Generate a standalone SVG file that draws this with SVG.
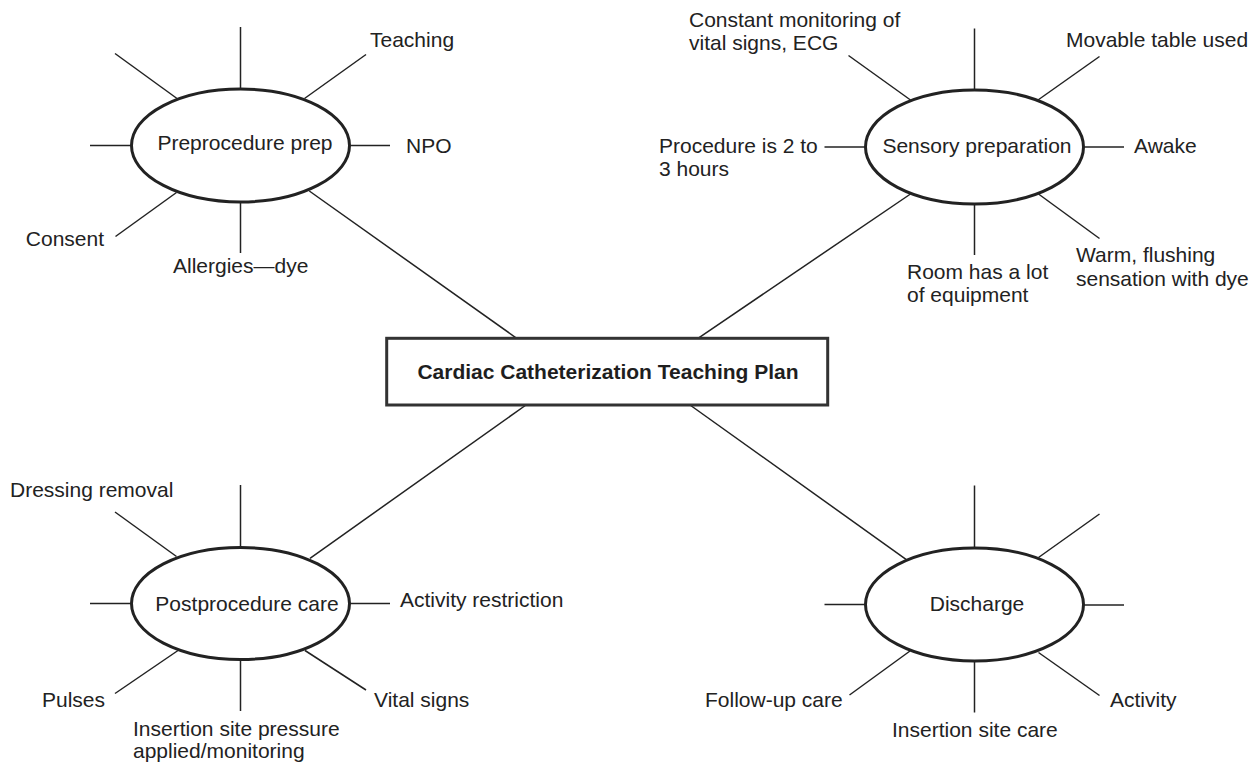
<svg xmlns="http://www.w3.org/2000/svg" width="1257" height="763" viewBox="0 0 1257 763">
<style>
  .bg{fill:#ffffff}
  .spoke{stroke:#222;stroke-width:1.5;fill:none;stroke-linecap:butt}
  .conn{stroke:#222;stroke-width:1.5;fill:none}
  .ell{fill:#ffffff;stroke:#222;stroke-width:3}
  .box{fill:#ffffff;stroke:#333;stroke-width:3}
  text{font-family:"Liberation Sans",Arial,Helvetica,sans-serif;font-size:21px;fill:#222}
  .title{font-weight:bold;font-size:21px;fill:#1e1e1e}
  .mid{text-anchor:middle}
</style>
<rect class="bg" x="0" y="0" width="1257" height="763"/>

<g id="connectors">
  <line class="conn" x1="309.3" y1="191" x2="516.7" y2="338.3"/>
  <line class="conn" x1="910.5" y1="194" x2="698" y2="338.3"/>
  <line class="conn" x1="310" y1="558.3" x2="526" y2="405"/>
  <line class="conn" x1="690" y1="405" x2="906" y2="559.3"/>
</g>

<g id="center">
  <rect class="box" x="386.7" y="338.3" width="441" height="66.7"/>
  <text class="title mid" x="608" y="379">Cardiac Catheterization Teaching Plan</text>
</g>

<g id="preprocedure">
  <g>
    <line class="spoke" x1="240.5" y1="27" x2="240.5" y2="89"/>
    <line class="spoke" x1="115" y1="53.5" x2="177" y2="98.5"/>
    <line class="spoke" x1="366" y1="54.5" x2="304.5" y2="98.5"/>
    <line class="spoke" x1="90" y1="145.5" x2="131.5" y2="145.5"/>
    <line class="spoke" x1="349.5" y1="145.5" x2="390" y2="145.5"/>
    <line class="spoke" x1="176.5" y1="192.5" x2="115.5" y2="236.5"/>
    <line class="spoke" x1="240.5" y1="202" x2="240.5" y2="253"/>
  </g>
  <ellipse class="ell" cx="240.5" cy="145.5" rx="109" ry="56.5"/>
  <text class="mid" x="245" y="150">Preprocedure prep</text>
  <text x="370" y="47">Teaching</text>
  <text x="406" y="153">NPO</text>
  <text x="173" y="273">Allergies—dye</text>
  <text x="104" y="246" text-anchor="end">Consent</text>
</g>

<g id="sensory">
  <g>
    <line class="spoke" x1="974.5" y1="28.5" x2="974.5" y2="90.5"/>
    <line class="spoke" x1="848.5" y1="55.5" x2="910.5" y2="100"/>
    <line class="spoke" x1="1099.5" y1="56.5" x2="1038" y2="100"/>
    <line class="spoke" x1="824.5" y1="147" x2="865.5" y2="147"/>
    <line class="spoke" x1="1083.5" y1="147" x2="1124" y2="147"/>
    <line class="spoke" x1="974.5" y1="203.5" x2="974.5" y2="255"/>
    <line class="spoke" x1="1038.5" y1="194" x2="1099.5" y2="238.5"/>
  </g>
  <ellipse class="ell" cx="974.5" cy="147" rx="109" ry="57"/>
  <text class="mid" x="977" y="153">Sensory preparation</text>
  <text x="689" y="27">Constant monitoring of</text>
  <text x="689" y="50">vital signs, ECG</text>
  <text x="1066" y="47">Movable table used</text>
  <text x="659" y="153">Procedure is 2 to</text>
  <text x="659" y="176">3 hours</text>
  <text x="1134" y="153">Awake</text>
  <text x="907" y="279">Room has a lot</text>
  <text x="907" y="302">of equipment</text>
  <text x="1076" y="262">Warm, flushing</text>
  <text x="1076" y="286">sensation with dye</text>
</g>

<g id="postprocedure">
  <g>
    <line class="spoke" x1="240.5" y1="485" x2="240.5" y2="547"/>
    <line class="spoke" x1="115" y1="512" x2="176.5" y2="556.5"/>
    <line class="spoke" x1="90" y1="603.5" x2="131.5" y2="603.5"/>
    <line class="spoke" x1="349.5" y1="603.5" x2="390" y2="603.5"/>
    <line class="spoke" x1="178" y1="650.5" x2="115" y2="693.5"/>
    <line class="spoke" x1="240.5" y1="660" x2="240.5" y2="711"/>
    <line class="spoke" x1="305" y1="650.5" x2="366" y2="690"/>
  </g>
  <ellipse class="ell" cx="240.5" cy="603.5" rx="109" ry="56"/>
  <text class="mid" x="247" y="611">Postprocedure care</text>
  <text x="10" y="497">Dressing removal</text>
  <text x="400" y="607">Activity restriction</text>
  <text x="42" y="707">Pulses</text>
  <text x="374" y="707">Vital signs</text>
  <text x="133" y="736">Insertion site pressure</text>
  <text x="133" y="758">applied/monitoring</text>
</g>

<g id="discharge">
  <g>
    <line class="spoke" x1="974.5" y1="485.5" x2="974.5" y2="548"/>
    <line class="spoke" x1="1099.5" y1="514" x2="1038.5" y2="557.5"/>
    <line class="spoke" x1="824.5" y1="604.5" x2="865.5" y2="604.5"/>
    <line class="spoke" x1="1083.5" y1="605" x2="1124" y2="605"/>
    <line class="spoke" x1="910" y1="651" x2="849.5" y2="695"/>
    <line class="spoke" x1="974.5" y1="661" x2="974.5" y2="712.5"/>
    <line class="spoke" x1="1038.5" y1="652.5" x2="1099.5" y2="695.5"/>
  </g>
  <ellipse class="ell" cx="974.5" cy="604.5" rx="109" ry="56.5"/>
  <text class="mid" x="977" y="611">Discharge</text>
  <text x="705" y="707">Follow-up care</text>
  <text x="1110" y="707">Activity</text>
  <text x="892" y="737">Insertion site care</text>
</g>
</svg>
